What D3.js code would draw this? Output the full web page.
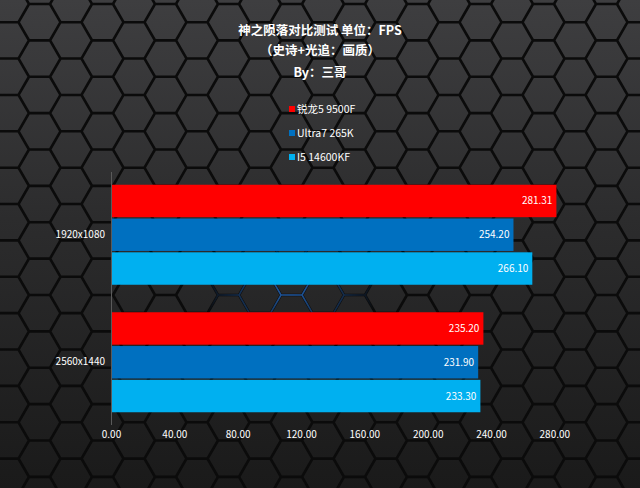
<!DOCTYPE html>
<html>
<head>
<meta charset="utf-8">
<script src="https://cdn.jsdelivr.net/npm/d3@7"></script>
<style>
html,body{margin:0;padding:0;background:#222;}
svg{display:block;}
text{font-family:"Noto Sans CJK SC","Noto Sans",sans-serif;}
</style>
</head>
<body>
<svg id="chart" width="640" height="488"></svg>
<script>
const categories = ["1920x1080", "2560x1440"];
const seriesNames = ["锐龙5 9500F", "Ultra7 265K", "I5 14600KF"];
const seriesColors = ["#ff0000", "#0070c0", "#00b0f0"];
const values = {
  "锐龙5 9500F": [281.31, 235.20],
  "Ultra7 265K": [254.20, 231.90],
  "I5 14600KF": [266.10, 233.30]
};
const tickValues = [0, 40, 80, 120, 160, 200, 240, 280];
const titleLines = ["神之陨落对比测试 单位：FPS", "（史诗+光追：画质）", "By：三哥"];

const W = 640, H = 488;
const svg = d3.select("#chart");
const defs = svg.append("defs");

// background gradient
const bg = defs.append("linearGradient").attr("id","bg").attr("x1",0).attr("y1",0).attr("x2",0).attr("y2",1);
bg.append("stop").attr("offset","0%").attr("stop-color","#3e3e40");
bg.append("stop").attr("offset","45%").attr("stop-color","#2c2c2d");
bg.append("stop").attr("offset","100%").attr("stop-color","#1a1a1a");
svg.append("rect").attr("width",W).attr("height",H).attr("fill","url(#bg)");

// hex grid decoration
const r = 21, hh = Math.sqrt(3)*r;
function hexPath(cx, cy){
  let p = "";
  for(let i=0;i<6;i++){
    const a = Math.PI/3*i;
    p += (i?"L":"M") + (cx + r*Math.cos(a)).toFixed(2) + "," + (cy + r*Math.sin(a)).toFixed(2);
  }
  return p + "Z";
}
let hexD = "";
for(let c=-1; c*1.5*r < W + 2*r; c++){
  const cx = c*1.5*r + 8;
  const off = (c % 2 === 0) ? 0 : hh/2;
  for(let rr=-1; rr*hh < H + 2*r; rr++){
    hexD += hexPath(cx, rr*hh + off + 4);
  }
}
svg.append("path").attr("d",hexD).attr("fill","none").attr("stroke","#0b0b0b").attr("stroke-width",2.6);

// blue glow
const rg = defs.append("radialGradient").attr("id","glow").attr("cx",0.5).attr("cy",0.5).attr("r",0.5);
rg.append("stop").attr("offset","0%").attr("stop-color","#fff").attr("stop-opacity",1);
rg.append("stop").attr("offset","100%").attr("stop-color","#fff").attr("stop-opacity",0);
defs.append("mask").attr("id","glowMask").append("ellipse")
  .attr("cx",290).attr("cy",290).attr("rx",90).attr("ry",55).attr("fill","url(#glow)");
svg.append("path").attr("d",hexD).attr("fill","none").attr("stroke","#2a7ae0").attr("stroke-width",1.6)
  .attr("mask","url(#glowMask)").attr("opacity",0.75);

// title
svg.selectAll("text.title").data(titleLines).join("text")
  .attr("class","title")
  .attr("x",320).attr("y",(d,i)=>[35,55,77][i])
  .attr("text-anchor","middle").attr("fill","#fff")
  .attr("font-size",12.5).attr("font-weight","bold")
  .text(d=>d);

// legend
const lg = svg.append("g");
const legY = [109, 133, 157];
seriesNames.forEach((s,i)=>{
  lg.append("rect").attr("x",289).attr("y",legY[i]-3).attr("width",6).attr("height",6).attr("fill",seriesColors[i]);
  lg.append("text").attr("x",297).attr("y",legY[i]).attr("dy","0.35em")
    .attr("fill","#fff").attr("font-size",10.5).text(s);
});

// scales
const x = d3.scaleLinear().domain([0,300]).range([111,586]);
const y0 = d3.scaleBand().domain(categories).range([171,426]).paddingInner(0.2157).paddingOuter(0.1078);
const y1 = d3.scaleBand().domain(seriesNames).range([0,y0.bandwidth()]).paddingInner(0.04);
const color = d3.scaleOrdinal().domain(seriesNames).range(seriesColors);

// axis line
svg.append("line").attr("x1",111.5).attr("x2",111.5).attr("y1",172).attr("y2",425)
  .attr("stroke","#5a5a5a").attr("stroke-width",1);

// bars
const flat = [];
categories.forEach((c,ci)=>seriesNames.forEach(s=>flat.push({cat:c, s, v:values[s][ci]})));
svg.append("g").selectAll("rect").data(flat).join("rect")
  .attr("x",x(0)+1)
  .attr("y",d=>y0(d.cat)+y1(d.s))
  .attr("width",d=>x(d.v)-x(0)-1)
  .attr("height",y1.bandwidth())
  .attr("fill",d=>color(d.s));

svg.append("g").selectAll("text").data(flat).join("text")
  .attr("x",d=>x(d.v)-4)
  .attr("y",d=>y0(d.cat)+y1(d.s)+y1.bandwidth()/2)
  .attr("dy","0.35em").attr("text-anchor","end")
  .attr("fill","#fff").attr("font-size",10)
  .text(d=>d.v.toFixed(2));

// category axis
const yAxis = svg.append("g").attr("transform","translate(105,0)")
  .call(d3.axisLeft(y0).tickSize(0).tickPadding(0));
yAxis.select(".domain").remove();
yAxis.selectAll("text").attr("fill","#fff").attr("font-size",10)
  .attr("font-family",'"Noto Sans CJK SC","Noto Sans",sans-serif');

// x axis
const xAxis = svg.append("g").attr("transform","translate(0,431)")
  .call(d3.axisBottom(x).tickValues(tickValues).tickFormat(d3.format(".2f")).tickSize(0).tickPadding(0));
xAxis.select(".domain").remove();
xAxis.selectAll("text").attr("fill","#fff").attr("font-size",10)
  .attr("font-family",'"Noto Sans CJK SC","Noto Sans",sans-serif');
</script>
</body>
</html>
